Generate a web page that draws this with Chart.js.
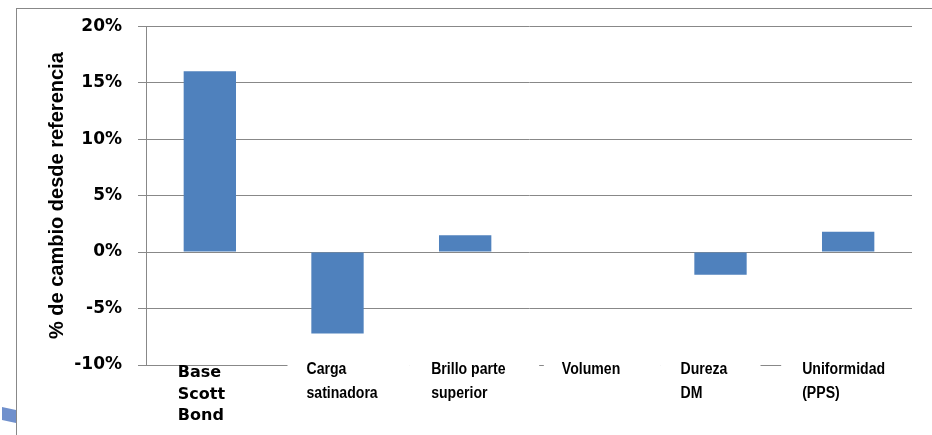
<!DOCTYPE html>
<html>
<head>
<meta charset="utf-8">
<script src="https://cdn.jsdelivr.net/npm/chart.js@4.4.1/dist/chart.umd.min.js"></script>
<style>
  html, body { margin: 0; padding: 0; background: #fff; }
  #wrap { width: 932px; height: 435px; position: relative; }
</style>
</head>
<body>
<div id="wrap"><canvas id="chart"></canvas></div>
<script>
// categorias (multi-linea, como en la figura)
const categorias = [
  ['Base', 'Scott', 'Bond'],
  ['Carga', 'satinadora'],
  ['Brillo parte', 'superior'],
  ['Volumen'],
  ['Dureza', 'DM'],
  ['Uniformidad', '(PPS)'],
];
const cambios = [16, -7.2, 1.5, 0, -2.0, 1.8];
const yMin = -10;
const yMax = 20;
const yPaso = 5;
const tituloY = '% de cambio desde referencia';

// desplazamiento de cada etiqueta respecto al centro de la categoria
const desplEtiqueta = [-32, -31, -34, -31, -40, -46];
// cajas blancas que tapan la linea inferior (relativas al centro)
const cajas = [null, [-50, 72], [-56, 74], [-49, 68], [-60, 40], [-67, 70]];

const gris = '#888888';

const marcoPlugin = {
  id: 'marco',
  beforeDraw(chart) {
    const ctx = chart.ctx;
    ctx.save();
    ctx.fillStyle = '#fff';
    ctx.fillRect(0, 0, chart.width, chart.height);
    ctx.fillStyle = gris;
    ctx.fillRect(16, 8, chart.width - 16, 1);
    ctx.fillRect(16, 8, 1, chart.height - 8);
    // trozo azul en la esquina
    ctx.fillStyle = '#7090cc';
    ctx.beginPath();
    ctx.moveTo(2, 407);
    ctx.lineTo(16, 410);
    ctx.lineTo(16, 423);
    ctx.lineTo(2, 420);
    ctx.closePath();
    ctx.fill();
    ctx.restore();
  },
  afterDraw(chart) {
    const ctx = chart.ctx;
    const x = chart.scales.x;
    const base = chart.chartArea.bottom;
    ctx.save();
    categorias.forEach((lineas, i) => {
      const cx = x.getPixelForValue(i);
      if (cajas[i]) {
        ctx.fillStyle = '#fff';
        ctx.fillRect(cx + cajas[i][0], base - 3, cajas[i][1] - cajas[i][0], 40);
      }
      const lx = cx + desplEtiqueta[i];
      ctx.fillStyle = '#000';
      ctx.textAlign = 'left';
      ctx.textBaseline = 'alphabetic';
      if (i === 0) {
        ctx.font = 'bold 16px "DejaVu Sans"';
        lineas.forEach((t, k) => ctx.fillText(t, lx, base + 12 + k * 21.5));
      } else {
        ctx.font = 'bold 16px "Liberation Sans"';
        lineas.forEach((t, k) => {
          ctx.save();
          ctx.translate(lx, base + 9 + k * 24);
          ctx.scale(0.88, 1);
          ctx.fillText(t, 0, 0);
          ctx.restore();
        });
      }
    });
    ctx.restore();
  },
};

new Chart(document.getElementById('chart'), {
  type: 'bar',
  data: {
    labels: categorias,
    datasets: [
      {
        data: cambios,
        backgroundColor: '#4f81bd',
        borderWidth: 0,
        barPercentage: 0.41,
        categoryPercentage: 1,
      },
    ],
  },
  options: {
    responsive: true,
    maintainAspectRatio: false,
    animation: false,
    layout: { padding: { left: 41, right: 20, top: 26, bottom: 70 } },
    plugins: {
      legend: { display: false },
      tooltip: { enabled: false },
    },
    scales: {
      x: { display: false },
      y: {
        min: yMin,
        max: yMax,
        ticks: {
          stepSize: yPaso,
          callback: (v) => v + '%',
          color: '#000',
          padding: 16,
          font: { family: 'DejaVu Sans', size: 17, weight: 'bold' },
        },
        grid: { color: gris, tickLength: 8, tickColor: gris },
        border: { color: gris },
        title: {
          display: true,
          text: tituloY,
          color: '#000',
          font: { family: 'Liberation Sans', size: 20, weight: 'bold' },
          padding: { top: 4, bottom: 4 },
        },
        afterFit(scale) {
          scale.width = 105;
        },
      },
    },
  },
  plugins: [marcoPlugin],
});
</script>
</body>
</html>
